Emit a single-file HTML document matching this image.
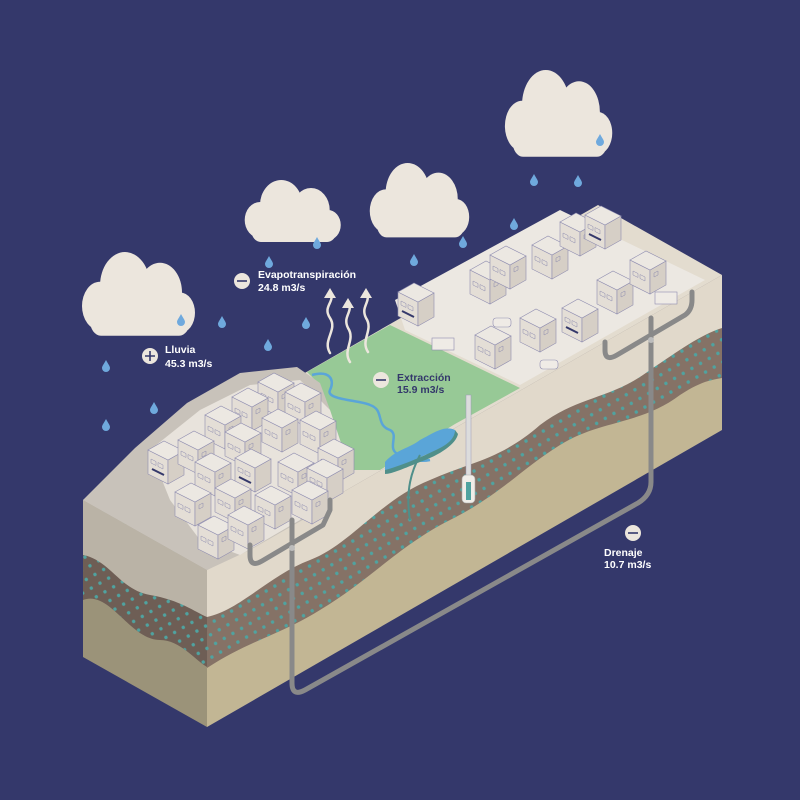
<!DOCTYPE html>
<html><head><meta charset="utf-8"><style>
html,body{margin:0;padding:0;background:#34386b;}
svg{display:block}
text{font-family:"Liberation Sans",Arial,sans-serif;font-weight:bold;font-size:10.5px}
</style></head><body>
<svg width="800" height="800" viewBox="0 0 800 800" xmlns="http://www.w3.org/2000/svg">
<defs>
<pattern id="dots" width="10" height="10" patternUnits="userSpaceOnUse" patternTransform="rotate(-30)">
<circle cx="5" cy="5" r="1.7" fill="#4fa3a0"/>
</pattern>
<g id="bld">
<polygon points="0,0 20,10 20,34 0,24" fill="#e4ded6" stroke="#8f8db0" stroke-width="0.6"/>
<polygon points="20,10 36,1 36,25 20,34" fill="#d6cfc6" stroke="#8f8db0" stroke-width="0.6"/>
<polygon points="0,0 16,-9 36,1 20,10" fill="#ece8e2" stroke="#8f8db0" stroke-width="0.6"/>
<path d="M3,11 l5,2.5 v4 l-5,-2.5z M10,14.5 l5,2.5 v4 l-5,-2.5z M24,13 l4,-2 v4 l-4,2z" fill="none" stroke="#8f8db0" stroke-width="0.5"/>
</g>
<g id="bld2">
<polygon points="0,0 20,10 20,34 0,24" fill="#e4ded6" stroke="#8f8db0" stroke-width="0.6"/>
<polygon points="20,10 36,1 36,25 20,34" fill="#d6cfc6" stroke="#8f8db0" stroke-width="0.6"/>
<polygon points="0,0 16,-9 36,1 20,10" fill="#ece8e2" stroke="#8f8db0" stroke-width="0.6"/>
<line x1="4" y1="19" x2="16" y2="25" stroke="#34386b" stroke-width="2"/>
<path d="M3,9 l5,2.5 v4 l-5,-2.5z M10,12.5 l5,2.5 v4 l-5,-2.5z" fill="none" stroke="#8f8db0" stroke-width="0.5"/>
</g>
<g id="drop"><path d="M0,-6 C2,-2 4,0 4,2 A4,4 0 0 1 -4,2 C-4,0 -2,-2 0,-6Z" fill="#6fa9dd"/></g>
<g id="cloud" fill="#ece6dd">
<circle cx="20" cy="40" r="18"/><circle cx="45" cy="25" r="25"/><circle cx="80" cy="30" r="22"/><circle cx="100" cy="45" r="15"/>
<rect x="10" y="40" width="100" height="22" rx="11"/>
</g>
<clipPath id="rf"><polygon points="207,570 722,275 722,430 207,727"/></clipPath>
<clipPath id="lf"><polygon points="83,500 207,570 207,727 83,657"/></clipPath>
</defs>

<use href="#cloud" transform="translate(80,252) scale(1.0,1.35)"/>
<use href="#cloud" transform="translate(243,180) scale(0.85,1.0)"/>
<use href="#cloud" transform="translate(368,163) scale(0.88,1.2)"/>
<use href="#cloud" transform="translate(503,70) scale(0.95,1.4)"/>

<use href="#drop" x="181" y="320"/><use href="#drop" x="222" y="322"/><use href="#drop" x="106" y="366"/>
<use href="#drop" x="154" y="408"/><use href="#drop" x="106" y="425"/><use href="#drop" x="268" y="345"/>
<use href="#drop" x="306" y="323"/><use href="#drop" x="269" y="262"/><use href="#drop" x="317" y="243"/>
<use href="#drop" x="414" y="260"/><use href="#drop" x="463" y="242"/><use href="#drop" x="514" y="224"/>
<use href="#drop" x="534" y="180"/><use href="#drop" x="578" y="181"/><use href="#drop" x="600" y="140"/>

<g clip-path="url(#lf)">
<rect x="80" y="495" width="130" height="240" fill="#9b9379"/>
<path d="M83,600 C110,590 130,640 160,640 C180,640 195,660 207,667 L207,560 L83,500Z" fill="#6e5e55"/>
<path d="M83,600 C110,590 130,640 160,640 C180,640 195,660 207,667 L207,560 L83,500Z" fill="url(#dots)"/>
<path d="M83,555 C110,560 120,590 150,595 C180,600 195,612 207,617 L207,560 L83,500Z" fill="#bab3a6"/>
</g>
<g clip-path="url(#rf)">
<rect x="200" y="260" width="530" height="480" fill="#c2b694"/>
<path d="M207,668 C250,640 280,635 320,610 C370,580 400,545 450,520 C500,495 520,470 560,445 C600,420 640,425 680,395 C700,382 710,380 722,378 L722,270 L207,560Z" fill="#857266"/>
<path d="M207,668 C250,640 280,635 320,610 C370,580 400,545 450,520 C500,495 520,470 560,445 C600,420 640,425 680,395 C700,382 710,380 722,378 L722,270 L207,560Z" fill="url(#dots)"/>
<path d="M207,617 C240,610 270,575 310,560 C350,545 380,500 430,480 C470,462 500,460 540,425 C580,395 610,400 650,370 C680,350 700,335 722,328 L722,270 L207,560Z" fill="#e1d9cb"/>
</g>

<polygon points="83,500 598,205 722,275 207,570" fill="#e3dccf"/>
<polygon points="395,300 560,210 705,280 520,385 405,330" fill="#ece8e2"/>
<polygon points="307,372 390,325 520,388 455,424 380,470 345,470 330,420 320,385" fill="#97c996"/>
<polygon points="83,500 135,448 187,403 240,373 297,367 320,383 330,410 350,470 320,510 250,550 207,570" fill="#c8c2ba"/>
<polygon points="150,450 200,410 250,385 300,380 330,410 350,470 300,520 240,555 200,540 170,500" fill="#e8e3dc"/>

<path d="M312,375 C330,370 335,380 330,390 C325,400 360,400 370,405 C385,410 375,425 390,430 C400,435 385,450 400,455 C410,460 420,462 430,460" fill="none" stroke="#5aa5d8" stroke-width="2.5"/>
<path d="M385,462 C395,450 410,448 420,440 C435,432 445,425 455,430 C458,440 440,450 425,455 C410,462 395,472 385,470Z" fill="#5aa5d8"/>
<path d="M385,470 C400,466 420,458 440,448 C448,444 455,438 455,430 L458,434 C456,444 440,455 420,462 C405,468 392,474 385,474Z" fill="#4f8f8a"/>
<path d="M420,455 C412,470 405,490 410,520" fill="none" stroke="#4f8f8a" stroke-width="2"/>

<!-- hill buildings -->
<use href="#bld" transform="translate(258,382)"/>
<use href="#bld" transform="translate(232,397)"/>
<use href="#bld" transform="translate(285,392)"/>
<use href="#bld" transform="translate(205,415)"/>
<use href="#bld" transform="translate(262,418)"/>
<use href="#bld" transform="translate(300,420)"/>
<use href="#bld2" transform="translate(148,450)"/>
<use href="#bld" transform="translate(178,440)"/>
<use href="#bld" transform="translate(225,432)"/>
<use href="#bld" transform="translate(318,448)"/>
<use href="#bld" transform="translate(195,462)"/>
<use href="#bld2" transform="translate(235,458)"/>
<use href="#bld" transform="translate(278,462)"/>
<use href="#bld2" transform="translate(307,468)"/>
<use href="#bld" transform="translate(175,492)"/>
<use href="#bld" transform="translate(215,488)"/>
<use href="#bld" transform="translate(255,495)"/>
<use href="#bld" transform="translate(292,490)"/>
<use href="#bld" transform="translate(198,525)"/>
<use href="#bld" transform="translate(228,515)"/>

<!-- city buildings -->
<use href="#bld2" transform="translate(398,292)"/>
<use href="#bld" transform="translate(470,270)"/>
<use href="#bld" transform="translate(490,255)"/>
<use href="#bld" transform="translate(532,245)"/>
<use href="#bld" transform="translate(560,222)"/>
<use href="#bld2" transform="translate(585,215)"/>
<use href="#bld" transform="translate(475,335)"/>
<use href="#bld" transform="translate(520,318)"/>
<use href="#bld2" transform="translate(562,308)"/>
<use href="#bld" transform="translate(597,280)"/>
<use href="#bld" transform="translate(630,260)"/>
<rect x="432" y="338" width="22" height="12" fill="#efebe6" stroke="#8f8db0" stroke-width="0.6"/>
<rect x="655" y="292" width="22" height="12" fill="#efebe6" stroke="#8f8db0" stroke-width="0.6"/>
<rect x="540" y="360" width="18" height="9" rx="3" fill="#efebe6" stroke="#8f8db0" stroke-width="0.6"/>
<rect x="493" y="318" width="18" height="9" rx="3" fill="#efebe6" stroke="#8f8db0" stroke-width="0.6"/>

<g fill="none" stroke="#ece6dd" stroke-width="2.5" stroke-linecap="round">
<path d="M330,353 C322,340 338,330 330,318 C322,306 336,302 330,292"/>
<path d="M350,362 C342,350 356,340 348,328 C342,316 354,312 348,302"/>
<path d="M368,352 C360,340 374,330 366,318 C360,306 372,302 366,292"/>
</g>
<g fill="#ece6dd">
<polygon points="330,288 324,298 336,298"/><polygon points="348,298 342,308 354,308"/><polygon points="366,288 360,298 372,298"/>
</g>

<rect x="466" y="395" width="5" height="88" fill="#dcdcdc" stroke="#9c9ab8" stroke-width="0.5"/>
<rect x="462" y="475" width="13" height="28" rx="4" fill="#f0ede8" stroke="#aaa" stroke-width="0.6"/>
<rect x="466" y="482" width="5" height="18" fill="#4fa3a0"/>

<g fill="none" stroke="#898989" stroke-width="5" stroke-linecap="round" stroke-linejoin="round">
<path d="M292,520 L292,683 Q292,697 305,690 L638,503 Q651,495 651,482 L651,318"/>
<path d="M250,545 L250,555 Q250,568 262,561 L323,525 L330,510 L330,500"/>
<path d="M605,342 L605,350 Q605,362 617,355 L685,315 Q692,310 692,300 L692,292"/>
</g>
<circle cx="292" cy="548" r="3" fill="#bdbdbd"/><circle cx="651" cy="340" r="3" fill="#bdbdbd"/>

<circle cx="150" cy="356" r="8" fill="#ece6dd"/>
<path d="M145,356 H155 M150,351 V361" stroke="#34386b" stroke-width="1.6"/>
<text x="165" y="353" fill="#fff">Lluvia</text><text x="165" y="367" fill="#fff">45.3 m3/s</text>

<circle cx="242" cy="281" r="8" fill="#ece6dd"/>
<path d="M237,281 H247" stroke="#34386b" stroke-width="1.6"/>
<text x="258" y="278" fill="#fff">Evapotranspiración</text><text x="258" y="291" fill="#fff">24.8 m3/s</text>

<circle cx="381" cy="380" r="8" fill="#ece6dd"/>
<path d="M376,380 H386" stroke="#34386b" stroke-width="1.6"/>
<text x="397" y="381" fill="#34386b">Extracción</text><text x="397" y="393" fill="#34386b">15.9 m3/s</text>

<circle cx="633" cy="533" r="8" fill="#ece6dd"/>
<path d="M628,533 H638" stroke="#34386b" stroke-width="1.6"/>
<text x="604" y="556" fill="#fff">Drenaje</text><text x="604" y="568" fill="#fff">10.7 m3/s</text>
</svg>
</body></html>
